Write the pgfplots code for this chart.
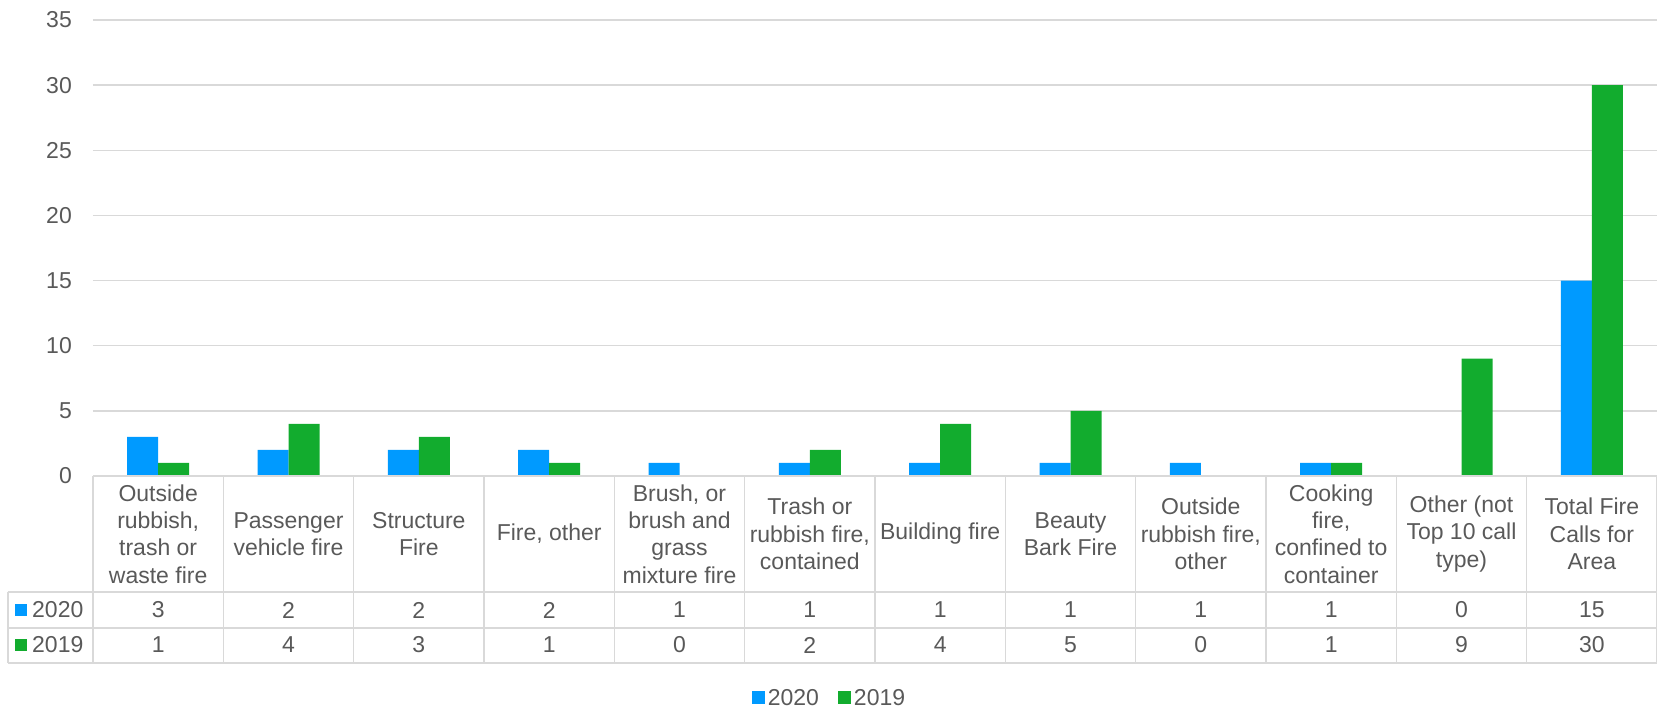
\documentclass[border=0pt]{standalone}
\usepackage{fontspec}
\setmainfont{Liberation Sans}
\usepackage{pgfplots}
\pgfplotsset{compat=1.18}
\definecolor{c2020}{HTML}{009AFF}
\definecolor{c2019}{HTML}{12AC2E}
\definecolor{gridc}{HTML}{D9D9D9}
\definecolor{txt}{HTML}{595959}
\newcommand{\tf}{\fontsize{23}{27.3}\selectfont}
\begin{document}
\begin{tikzpicture}[x=1pt,y=1pt]
\path[use as bounding box] (-93,-234) rectangle (1564,476);
\begin{axis}[at={(0,0)}, anchor=south west, scale only axis,
  width=1564pt, height=456pt,
  ybar=0pt, bar width=31pt,
  xmin=-0.5, xmax=11.5, ymin=0, ymax=35, ytick={0,5,...,35},
  xtick=\empty, axis line style={draw=none},
  ymajorgrids, grid style={gridc, line width=1.3pt},
  major tick length=0pt,
  tick label style={font=\tf, text=txt},
  /pgf/number format/assume math mode=true,
  yticklabel style={anchor=east, inner sep=0pt, xshift=-21pt},
  clip=false,
  legend style={at={(0.4712,-0.4868)}, anchor=center, draw=none, fill=none,
    legend columns=2, font=\tf, text=txt,
    /tikz/every even column/.append style={column sep=16pt},
    nodes={inner sep=3pt}},
]
\addplot[fill=c2020, draw=none,
  legend image code/.code={\fill[c2020] (0pt,-6.5pt) rectangle (13pt,6.5pt);}]
  coordinates {(0,3) (1,2) (2,2) (3,2) (4,1) (5,1) (6,1) (7,1) (8,1) (9,1) (10,0) (11,15)};
\addlegendentry{2020}
\addplot[fill=c2019, draw=none,
  legend image code/.code={\fill[c2019] (0pt,-6.5pt) rectangle (13pt,6.5pt);}]
  coordinates {(0,1) (1,4) (2,3) (3,1) (4,0) (5,2) (6,4) (7,5) (8,0) (9,1) (10,9) (11,30)};
\addlegendentry{2019}
\end{axis}
% data table
\begin{scope}[gridc, line width=1.3pt]
  \draw (0,0) -- (1564,0);
  \draw (-85,-116) -- (1564,-116);
  \draw (-85,-152) -- (1564,-152);
  \draw (-85,-187) -- (1564,-187);
  \draw (-85,-116) -- (-85,-187);
  \foreach \k in {0,...,12} \draw ({\k*130.333},0) -- ({\k*130.333},-187);
\end{scope}
\begin{scope}[every node/.style={font=\tf, text=txt, align=center, inner sep=0pt}]
  \foreach \lab [count=\i from 0] in {
    {Outside\\rubbish,\\trash or\\waste fire},
    {Passenger\\vehicle fire},
    {Structure\\Fire},
    {Fire, other},
    {Brush, or\\brush and\\grass\\mixture fire},
    {Trash or\\rubbish fire,\\contained},
    {Building fire},
    {Beauty\\Bark Fire},
    {Outside\\rubbish fire,\\other},
    {Cooking\\fire,\\confined to\\container},
    {Other (not\\Top 10 call\\type)},
    {Total Fire\\Calls for\\Area}}
    \node at ({(\i+0.5)*130.333},-58) {\lab};
  \foreach \v [count=\i from 0] in {3,2,2,2,1,1,1,1,1,1,0,15}
    \node at ({(\i+0.5)*130.333},-134) {\v};
  \foreach \v [count=\i from 0] in {1,4,3,1,0,2,4,5,0,1,9,30}
    \node at ({(\i+0.5)*130.333},-169) {\v};
  \fill[c2020] (-78,-140) rectangle (-66,-128);
  \node[anchor=west] at (-61,-134) {2020};
  \fill[c2019] (-78,-175) rectangle (-66,-163);
  \node[anchor=west] at (-61,-169) {2019};
\end{scope}
\end{tikzpicture}
\end{document}
